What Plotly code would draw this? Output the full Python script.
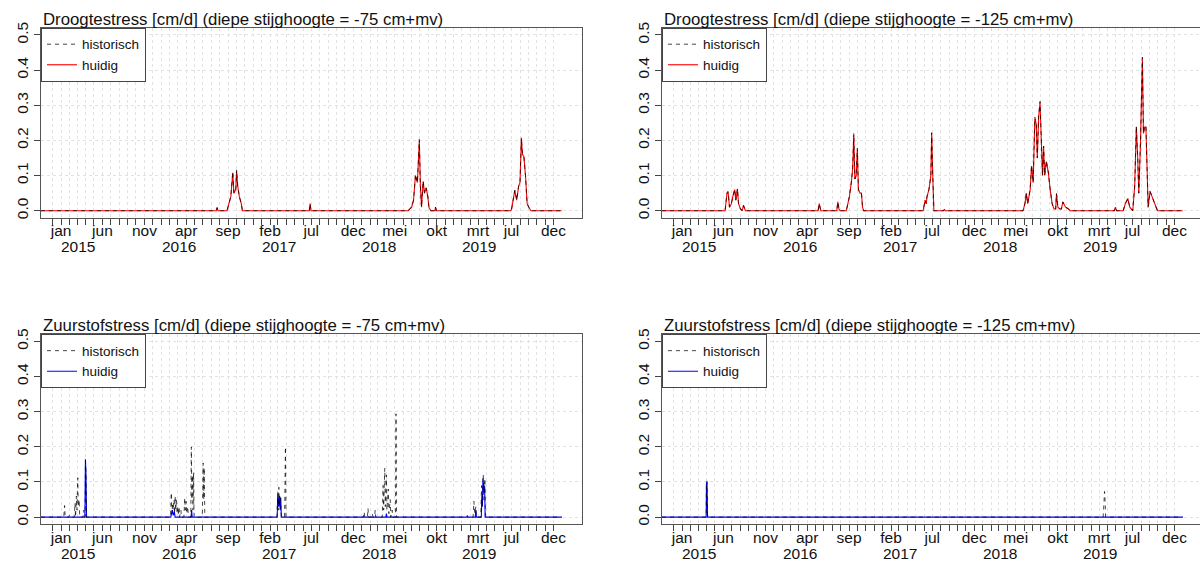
import pandas as pd
import plotly.graph_objects as go

# Dagnummers tellen vanaf 1 januari 2015; waarden in cm/d.
ORIGIN = pd.Timestamp("2015-01-01")

# --- Droogtestress, diepe stijghoogte -75 cm+mv -----------------------------
droog75_dag = [
    -73,
    566, 569, 572,
    605, 612, 619, 626, 630, 637, 640, 644, 650, 657, 661,
    905, 908, 911,
    1266, 1271, 1278, 1285, 1292, 1299, 1303, 1306, 1310, 1314, 1320, 1325,
    1331, 1337, 1341, 1348, 1363, 1365, 1368,
    1638, 1642, 1648, 1654, 1661, 1668, 1673, 1678, 1682, 1687, 1693, 1699,
    1705, 1713,
    1825,
]
droog75_historisch = [
    0,
    0, 0.009, 0,
    0, 0.02, 0.04, 0.111, 0.05, 0.06, 0.116, 0.07, 0.04, 0.02, 0,
    0, 0.02, 0,
    0, 0.005, 0.01, 0.03, 0.103, 0.08, 0.15, 0.203, 0.07, 0.01, 0.085, 0.05,
    0.065, 0.04, 0.01, 0, 0, 0.01, 0,
    0, 0.003, 0.03, 0.058, 0.03, 0.07, 0.08, 0.208, 0.16, 0.155, 0.1, 0.02,
    0.01, 0,
    0,
]
droog75_huidig = [
    0,
    0, 0.009, 0,
    0, 0.02, 0.04, 0.108, 0.05, 0.06, 0.113, 0.07, 0.04, 0.02, 0,
    0, 0.02, 0,
    0, 0.005, 0.01, 0.03, 0.1, 0.08, 0.15, 0.2, 0.07, 0.01, 0.083, 0.05,
    0.065, 0.04, 0.01, 0, 0, 0.01, 0,
    0, 0.003, 0.03, 0.058, 0.03, 0.07, 0.08, 0.205, 0.16, 0.155, 0.1, 0.02,
    0.01, 0,
    0,
]

# --- Droogtestress, diepe stijghoogte -125 cm+mv ----------------------------
droog125_dag = [
    -73,
    157, 164, 168, 173, 180, 185, 192, 196, 202, 206, 213, 219, 224, 231,
    496, 500, 503, 506,
    564, 568, 572, 576,
    599, 605, 610, 617, 622, 626, 630, 635, 639, 643, 649, 654, 658, 662,
    879, 886, 890, 893, 900, 907, 910, 914, 918,
    953, 956, 960,
    1243, 1250, 1255, 1260, 1269, 1274, 1280, 1286, 1291, 1295, 1300, 1305,
    1310, 1314, 1318, 1322, 1328, 1335, 1342, 1349, 1356, 1362, 1365, 1370,
    1377, 1383, 1388, 1398, 1409, 1414,
    1576, 1580, 1584,
    1608, 1616, 1625, 1632, 1643, 1650, 1656, 1661, 1665, 1671, 1675, 1678,
    1682, 1686, 1691, 1695, 1699, 1706, 1713, 1721, 1728, 1733,
    1825,
]
droog125_historisch = [
    0,
    0, 0.052, 0.055, 0.01, 0.02, 0.04, 0.061, 0.03, 0.063, 0.02, 0.005, 0, 0.015, 0,
    0, 0.02, 0.005, 0,
    0, 0.025, 0.005, 0,
    0, 0.02, 0.04, 0.08, 0.12, 0.22, 0.09, 0.1, 0.178, 0.06, 0.05, 0.05, 0.01, 0,
    0, 0.03, 0.02, 0.04, 0.06, 0.1, 0.222, 0.1, 0,
    0, 0.003, 0,
    0, 0.02, 0.05, 0.02, 0.06, 0.129, 0.08, 0.266, 0.25, 0.15, 0.27, 0.311,
    0.2, 0.1, 0.184, 0.1, 0.142, 0.11, 0.06, 0.02, 0.005, 0.005, 0.049, 0.01,
    0.005, 0.005, 0.025, 0.01, 0.005, 0,
    0, 0.01, 0,
    0, 0.02, 0.035, 0.01, 0, 0.07, 0.241, 0.15, 0.05, 0.19, 0.3, 0.437,
    0.22, 0.24, 0.24, 0.07, 0.01, 0.055, 0.04, 0.02, 0.005, 0,
    0,
]
droog125_huidig = [
    0,
    0, 0.05, 0.053, 0.01, 0.02, 0.04, 0.06, 0.03, 0.061, 0.02, 0.005, 0, 0.015, 0,
    0, 0.02, 0.005, 0,
    0, 0.025, 0.005, 0,
    0, 0.02, 0.04, 0.08, 0.12, 0.215, 0.09, 0.1, 0.175, 0.06, 0.05, 0.05, 0.01, 0,
    0, 0.03, 0.02, 0.04, 0.06, 0.1, 0.22, 0.1, 0,
    0, 0.003, 0,
    0, 0.02, 0.05, 0.02, 0.06, 0.127, 0.08, 0.262, 0.248, 0.15, 0.268, 0.308,
    0.2, 0.1, 0.182, 0.1, 0.14, 0.11, 0.06, 0.02, 0.005, 0.005, 0.048, 0.01,
    0.005, 0.005, 0.025, 0.01, 0.005, 0,
    0, 0.01, 0,
    0, 0.02, 0.035, 0.01, 0, 0.07, 0.238, 0.15, 0.05, 0.19, 0.3, 0.432,
    0.22, 0.238, 0.238, 0.07, 0.01, 0.055, 0.04, 0.02, 0.005, 0,
    0,
]

# --- Zuurstofstress, diepe stijghoogte -75 cm+mv ----------------------------
zuur75_hist_dag = [
    -73,
    10, 13, 15, 28, 30, 32, 48, 51, 53, 56, 58, 61, 63, 66, 68, 80, 83, 85,
    88, 89, 91, 93,
    399, 402, 404, 407, 409, 412, 414, 416, 418, 421, 423, 426, 428, 430, 432,
    437, 439, 448, 451, 453, 456, 458, 462, 464, 473, 475, 477, 480, 481, 483,
    485, 515, 518, 520, 522, 524,
    787, 790, 792, 794, 796, 799, 801, 803, 815, 818, 820,
    1102, 1105, 1107, 1117, 1119, 1121, 1133, 1135, 1137, 1143, 1145, 1147,
    1171, 1174, 1176, 1180, 1182, 1186, 1188, 1193, 1195, 1200, 1202, 1207,
    1209, 1219, 1221, 1223,
    1478, 1481, 1483, 1502, 1505, 1508, 1512, 1514, 1530, 1533, 1535, 1539,
    1541, 1545, 1547,
    1825,
]
zuur75_historisch = [
    0,
    0, 0.033, 0, 0, 0.005, 0, 0, 0.04, 0, 0.06, 0.02, 0.112, 0.03, 0.05, 0, 0, 0.02, 0,
    0, 0.16, 0.125, 0,
    0, 0.07, 0.01, 0.04, 0.02, 0.05, 0.01, 0.06, 0.02, 0.05, 0.01, 0.03, 0.005, 0.03, 0,
    0.02, 0, 0, 0.055, 0.02, 0.045, 0.01, 0.03, 0, 0, 0.2, 0.05, 0.12, 0.02, 0.128,
    0, 0, 0.154, 0.05, 0.14, 0,
    0, 0.07, 0.02, 0.085, 0.03, 0.06, 0.01, 0, 0, 0.2, 0,
    0, 0.015, 0, 0, 0.025, 0, 0, 0.01, 0, 0, 0.02, 0,
    0, 0.09, 0.02, 0.139, 0.03, 0.12, 0.02, 0.08, 0.01, 0.05, 0, 0.02,
    0, 0, 0.294, 0,
    0, 0.005, 0, 0, 0.045, 0.01, 0.03, 0, 0, 0.09, 0.03, 0.121,
    0.05, 0.11, 0,
    0,
]
zuur75_huidig_dag = [
    -73,
    87, 89, 91, 93,
    400, 403, 406, 409, 413, 416, 474, 476, 478,
    788, 790, 793, 796, 799, 801, 803,
    1184, 1186, 1188,
    1510, 1512, 1514, 1532, 1534, 1536, 1538, 1540, 1542, 1544, 1546,
    1825,
]
zuur75_huidig = [
    0,
    0, 0.165, 0.12, 0,
    0, 0.01, 0.02, 0.005, 0.015, 0, 0, 0.02, 0,
    0, 0.065, 0.03, 0.06, 0.02, 0.055, 0,
    0, 0.01, 0,
    0, 0.02, 0, 0, 0.06, 0.03, 0.11, 0.08, 0.07, 0.09, 0,
    0,
]

# --- Zuurstofstress, diepe stijghoogte -125 cm+mv ---------------------------
zuur125_hist_dag = [-73, 88, 89, 91, 93, 1535, 1538, 1540, 1542, 1544, 1825]
zuur125_historisch = [0, 0, 0.1, 0.103, 0, 0, 0.04, 0.073, 0.05, 0, 0]
zuur125_huidig_dag = [-73, 88, 89, 91, 93, 1825]
zuur125_huidig = [0, 0, 0.095, 0.1, 0, 0]

# --- As-labels ---------------------------------------------------------------
y_ticks = [0.0, 0.1, 0.2, 0.3, 0.4, 0.5]
maand_labels = {
    "2015-01": "jan", "2015-06": "jun", "2015-11": "nov", "2016-04": "apr",
    "2016-09": "sep", "2017-02": "feb", "2017-07": "jul", "2017-12": "dec",
    "2018-05": "mei", "2018-10": "okt", "2019-03": "mrt", "2019-07": "jul",
    "2019-12": "dec",
}
jaar_labels = ["2015", "2016", "2017", "2018", "2019"]
jaar_posities = ["2015-03-05", "2016-03-05", "2017-03-05", "2018-03-05", "2019-03-05"]

panels = [
    dict(title="Droogtestress [cm/d] (diepe stijghoogte = -75 cm+mv)", color="#ff0000",
         hist=(droog75_dag, droog75_historisch), huid=(droog75_dag, droog75_huidig)),
    dict(title="Droogtestress [cm/d] (diepe stijghoogte = -125 cm+mv)", color="#ff0000",
         hist=(droog125_dag, droog125_historisch), huid=(droog125_dag, droog125_huidig)),
    dict(title="Zuurstofstress [cm/d] (diepe stijghoogte = -75 cm+mv)", color="#0000ff",
         hist=(zuur75_hist_dag, zuur75_historisch), huid=(zuur75_huidig_dag, zuur75_huidig)),
    dict(title="Zuurstofstress [cm/d] (diepe stijghoogte = -125 cm+mv)", color="#0000ff",
         hist=(zuur125_hist_dag, zuur125_historisch), huid=(zuur125_huidig_dag, zuur125_huidig)),
]

# --- Pagina-indeling (pixels) ------------------------------------------------
W, H = 1200, 563
COLS = [(41.0, 582.0), (662.0, 1203.0)]
ROWS = [(22.2, 214.4), (332.5, 524.7)]
X_START, X_END = -73, 1899          # zichtbaar datumbereik in dagnummers
PX_PER_DAY = (COLS[0][1] - COLS[0][0]) / (X_END - X_START)
FONT = "Liberation Sans, Arial, Helvetica, sans-serif"
TXT = "#111111"
GRID = "#e2e2e2"


def to_dates(days):
    return [ORIGIN + pd.Timedelta(days=float(d)) for d in days]


month_ticks = pd.date_range("2014-12-01", "2019-12-01", freq="MS")
tick_text = [maand_labels.get(t.strftime("%Y-%m"), "") for t in month_ticks]

fig = go.Figure()
layout = dict(
    width=W, height=H, margin=dict(l=0, r=0, t=0, b=0),
    paper_bgcolor="white", plot_bgcolor="white",
    font=dict(family=FONT, color=TXT),
    annotations=[],
)

for i, p in enumerate(panels):
    row, col = divmod(i, 2)
    x0, x1 = COLS[col]
    y0, y1 = ROWS[row]
    x1c = min(x1, W)
    end_day = X_START + (x1c - x0) / PX_PER_DAY
    sfx = "" if i == 0 else str(i + 1)
    xa, ya = "x" + sfx, "y" + sfx
    leg = "legend" + sfx

    hd, hv = p["huid"]
    fig.add_trace(go.Scatter(
        x=to_dates(hd), y=hv, mode="lines", name="huidig",
        line=dict(color=p["color"], width=1.1), xaxis=xa, yaxis=ya,
        legend=leg, legendrank=2, hoverinfo="skip"))
    sd, sv = p["hist"]
    fig.add_trace(go.Scatter(
        x=to_dates(sd), y=sv, mode="lines", name="historisch",
        line=dict(color="rgba(0,0,0,0.72)", width=1, dash="4px,4px"),
        xaxis=xa, yaxis=ya, legend=leg, legendrank=1, hoverinfo="skip"))

    layout["xaxis" + sfx] = dict(
        domain=[x0 / W, x1c / W], anchor=ya, type="date",
        range=[ORIGIN + pd.Timedelta(days=X_START), ORIGIN + pd.Timedelta(days=end_day)],
        tickvals=list(month_ticks), ticktext=tick_text,
        ticks="outside", ticklen=6, tickcolor="#444444", tickwidth=1,
        ticklabelstandoff=-7,
        tickfont=dict(family=FONT, size=15.5, color=TXT),
        showgrid=True, gridcolor=GRID, gridwidth=1, griddash="dot",
        showline=True, linecolor="#555555", linewidth=1, mirror=True,
        zeroline=False, fixedrange=True,
    )
    layout["yaxis" + sfx] = dict(
        domain=[1 - y1 / H, 1 - y0 / H], anchor=xa,
        range=[-0.02, 0.52], tickvals=y_ticks, ticktext=[f"{v:.1f}" for v in y_ticks],
        tickangle=-90, ticks="outside", ticklen=6, tickcolor="#444444", tickwidth=1,
        tickfont=dict(family=FONT, size=15.5, color=TXT),
        showgrid=True, gridcolor=GRID, gridwidth=1, griddash="dot",
        showline=True, linecolor="#555555", linewidth=1, mirror=(col == 0),
        zeroline=False, fixedrange=True,
    )
    layout[leg] = dict(
        x=x0 / W, y=1 - y0 / H, xanchor="left", yanchor="top",
        bgcolor="white", bordercolor="#444444", borderwidth=1,
        font=dict(family=FONT, size=13.5, color=TXT), itemwidth=30,
        tracegroupgap=0,
    )

    # paneeltitel, links uitgelijnd boven het plotvlak
    layout["annotations"].append(dict(
        text=p["title"], xref="paper", yref="paper", x=x0 / W, y=1 - (y0 - 8.5) / H,
        xanchor="left", yanchor="middle", showarrow=False,
        font=dict(family=FONT, size=16.8, color=TXT)))
    # jaartallen onder de maandlabels
    for lab, pos in zip(jaar_labels, jaar_posities):
        layout["annotations"].append(dict(
            text=lab, xref=xa, yref="paper", x=pos, y=1 - (y1 + 29.5) / H,
            xanchor="center", yanchor="middle", showarrow=False,
            font=dict(family=FONT, size=15.5, color=TXT)))

fig.update_layout(**layout)
fig.write_html("out.html")
